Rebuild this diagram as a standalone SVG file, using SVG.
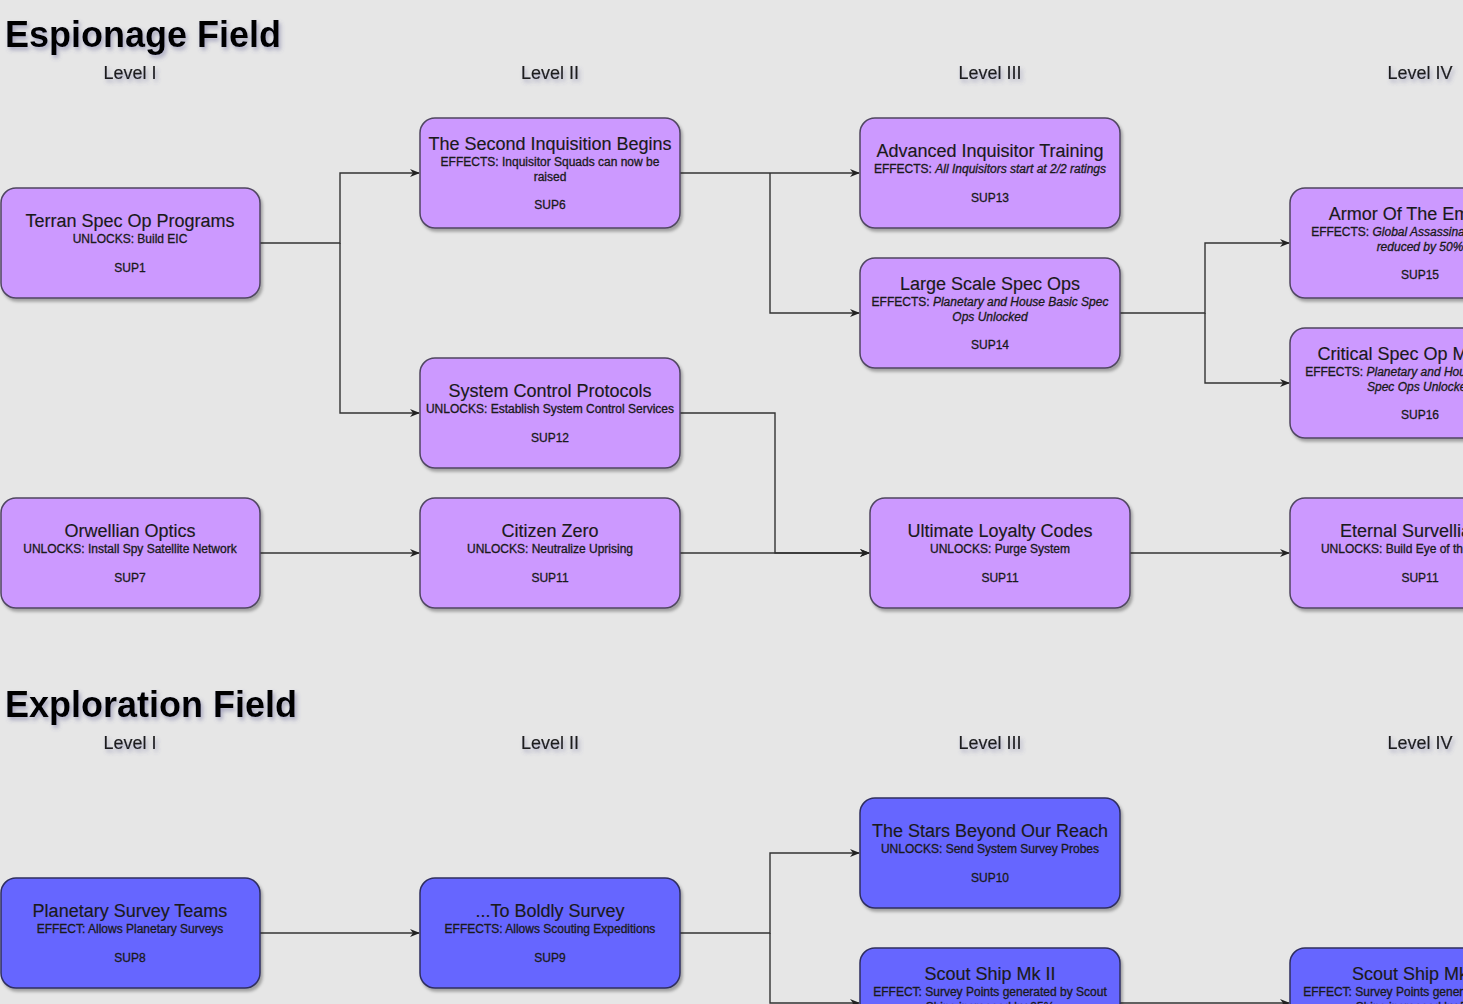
<svg xmlns="http://www.w3.org/2000/svg" width="1463" height="1004" viewBox="0 0 1463 1004">
<defs>
<filter id="ns" x="-10%" y="-10%" width="125%" height="130%">
<feDropShadow dx="2" dy="3" stdDeviation="1.5" flood-color="#000" flood-opacity="0.3"/>
</filter>
<filter id="ts" x="-10%" y="-30%" width="125%" height="180%">
<feDropShadow dx="2" dy="3" stdDeviation="2" flood-color="#5a5a90" flood-opacity="0.45"/>
</filter>
<marker id="ar" viewBox="0 0 10 10" refX="9" refY="5" markerWidth="10" markerHeight="10" markerUnits="userSpaceOnUse" orient="auto">
<path d="M0,1 L10,5 L0,9 L3,5 Z" fill="#222"/>
</marker>
</defs>
<style>
text{font-family:"Liberation Sans",Arial,sans-serif;fill:#1a1a1a;text-anchor:middle}
.h{font-size:36px;font-weight:bold;fill:#000;text-anchor:start}
.lv{font-size:18px;fill:#1f1f1f;stroke:#1f1f1f;stroke-width:0.2}
.t{font-size:18px;stroke:#1a1a1a;stroke-width:0.15}
.s{font-size:12px;stroke:#1a1a1a;stroke-width:0.3}
.i{font-style:italic}
.p rect{fill:#cc99ff;stroke:#4f4660;stroke-width:1.5}
.b rect{fill:#6666ff;stroke:#2f2f5f;stroke-width:1.5}
.c path{fill:none;stroke:#333;stroke-width:1.4}
</style>
<rect width="1463" height="1004" fill="#e6e6e6"/>

<g id="headings" filter="url(#ts)">
<text class="h" x="5" y="47">Espionage Field</text>
<text class="lv" x="130" y="79">Level I</text>
<text class="lv" x="550" y="79">Level II</text>
<text class="lv" x="990" y="79">Level III</text>
<text class="lv" x="1420" y="79">Level IV</text>
<text class="h" x="5" y="717">Exploration Field</text>
<text class="lv" x="130" y="749">Level I</text>
<text class="lv" x="550" y="749">Level II</text>
<text class="lv" x="990" y="749">Level III</text>
<text class="lv" x="1420" y="749">Level IV</text>
</g>

<g id="connectors" class="c">
<path d="M260,243 H340 V173 H419" marker-end="url(#ar)"/>
<path d="M340,243 V413 H419" marker-end="url(#ar)"/>
<path d="M680,173 H859" marker-end="url(#ar)"/>
<path d="M770,173 V313 H859" marker-end="url(#ar)"/>
<path d="M1120,313 H1205 V243 H1289" marker-end="url(#ar)"/>
<path d="M1205,313 V383 H1289" marker-end="url(#ar)"/>
<path d="M680,413 H775 V553 H869" marker-end="url(#ar)"/>
<path d="M260,553 H419" marker-end="url(#ar)"/>
<path d="M680,553 H869" marker-end="url(#ar)"/>
<path d="M1130,553 H1289" marker-end="url(#ar)"/>
<path d="M260,933 H419" marker-end="url(#ar)"/>
<path d="M680,933 H770 V853 H859" marker-end="url(#ar)"/>
<path d="M770,933 V1003 H859" marker-end="url(#ar)"/>
<path d="M1120,1003 H1289" marker-end="url(#ar)"/>
</g>

<g id="sup1" class="p"><rect x="1" y="188" width="259" height="110" rx="15" filter="url(#ns)"/>
<text class="t" x="130" y="227">Terran Spec Op Programs</text>
<text class="s" x="130" y="243">UNLOCKS: Build EIC</text>
<text class="s" x="130" y="272">SUP1</text></g>

<g id="sup6" class="p"><rect x="420" y="118" width="260" height="110" rx="15" filter="url(#ns)"/>
<text class="t" x="550" y="150">The Second Inquisition Begins</text>
<text class="s" x="550" y="166">EFFECTS: Inquisitor Squads can now be</text>
<text class="s" x="550" y="181">raised</text>
<text class="s" x="550" y="209">SUP6</text></g>

<g id="sup12" class="p"><rect x="420" y="358" width="260" height="110" rx="15" filter="url(#ns)"/>
<text class="t" x="550" y="397">System Control Protocols</text>
<text class="s" x="550" y="413">UNLOCKS: Establish System Control Services</text>
<text class="s" x="550" y="442">SUP12</text></g>

<g id="sup7" class="p"><rect x="1" y="498" width="259" height="110" rx="15" filter="url(#ns)"/>
<text class="t" x="130" y="537">Orwellian Optics</text>
<text class="s" x="130" y="553">UNLOCKS: Install Spy Satellite Network</text>
<text class="s" x="130" y="582">SUP7</text></g>

<g id="sup11a" class="p"><rect x="420" y="498" width="260" height="110" rx="15" filter="url(#ns)"/>
<text class="t" x="550" y="537">Citizen Zero</text>
<text class="s" x="550" y="553">UNLOCKS: Neutralize Uprising</text>
<text class="s" x="550" y="582">SUP11</text></g>

<g id="sup13" class="p"><rect x="860" y="118" width="260" height="110" rx="15" filter="url(#ns)"/>
<text class="t" x="990" y="157">Advanced Inquisitor Training</text>
<text class="s" x="990" y="173">EFFECTS: <tspan class="i">All Inquisitors start at 2/2 ratings</tspan></text>
<text class="s" x="990" y="202">SUP13</text></g>

<g id="sup14" class="p"><rect x="860" y="258" width="260" height="110" rx="15" filter="url(#ns)"/>
<text class="t" x="990" y="290">Large Scale Spec Ops</text>
<text class="s" x="990" y="306">EFFECTS: <tspan class="i">Planetary and House Basic Spec</tspan></text>
<text class="s i" x="990" y="321">Ops Unlocked</text>
<text class="s" x="990" y="349">SUP14</text></g>

<g id="sup11b" class="p"><rect x="870" y="498" width="260" height="110" rx="15" filter="url(#ns)"/>
<text class="t" x="1000" y="537">Ultimate Loyalty Codes</text>
<text class="s" x="1000" y="553">UNLOCKS: Purge System</text>
<text class="s" x="1000" y="582">SUP11</text></g>

<g id="sup15" class="p"><rect x="1290" y="188" width="260" height="110" rx="15" filter="url(#ns)"/>
<text class="t" x="1420" y="220">Armor Of The Emperor</text>
<text class="s" x="1420" y="236">EFFECTS: <tspan class="i">Global Assassination Chance</tspan></text>
<text class="s i" x="1420" y="251">reduced by 50%</text>
<text class="s" x="1420" y="279">SUP15</text></g>

<g id="sup16" class="p"><rect x="1290" y="328" width="260" height="110" rx="15" filter="url(#ns)"/>
<text class="t" x="1420" y="360">Critical Spec Op Missions</text>
<text class="s" x="1420" y="376">EFFECTS: <tspan class="i">Planetary and House Advanced</tspan></text>
<text class="s i" x="1420" y="391">Spec Ops Unlocked</text>
<text class="s" x="1420" y="419">SUP16</text></g>

<g id="sup11c" class="p"><rect x="1290" y="498" width="260" height="110" rx="15" filter="url(#ns)"/>
<text class="t" x="1420" y="537">Eternal Survelliance</text>
<text class="s" x="1420" y="553">UNLOCKS: Build Eye of the Emperor</text>
<text class="s" x="1420" y="582">SUP11</text></g>

<g id="sup8" class="b"><rect x="1" y="878" width="259" height="110" rx="15" filter="url(#ns)"/>
<text class="t" x="130" y="917">Planetary Survey Teams</text>
<text class="s" x="130" y="933">EFFECT: Allows Planetary Surveys</text>
<text class="s" x="130" y="962">SUP8</text></g>

<g id="sup9" class="b"><rect x="420" y="878" width="260" height="110" rx="15" filter="url(#ns)"/>
<text class="t" x="550" y="917">...To Boldly Survey</text>
<text class="s" x="550" y="933">EFFECTS: Allows Scouting Expeditions</text>
<text class="s" x="550" y="962">SUP9</text></g>

<g id="sup10" class="b"><rect x="860" y="798" width="260" height="110" rx="15" filter="url(#ns)"/>
<text class="t" x="990" y="837">The Stars Beyond Our Reach</text>
<text class="s" x="990" y="853">UNLOCKS: Send System Survey Probes</text>
<text class="s" x="990" y="882">SUP10</text></g>

<g id="scout2" class="b"><rect x="860" y="948" width="260" height="110" rx="15" filter="url(#ns)"/>
<text class="t" x="990" y="980">Scout Ship Mk II</text>
<text class="s" x="990" y="996">EFFECT: Survey Points generated by Scout</text>
<text class="s" x="990" y="1011">Ships increased by 25%</text></g>

<g id="scout3" class="b"><rect x="1290" y="948" width="260" height="110" rx="15" filter="url(#ns)"/>
<text class="t" x="1420" y="980">Scout Ship Mk III</text>
<text class="s" x="1420" y="996">EFFECT: Survey Points generated by Scout</text>
<text class="s" x="1420" y="1011">Ships increased by 50%</text></g>
</svg>
